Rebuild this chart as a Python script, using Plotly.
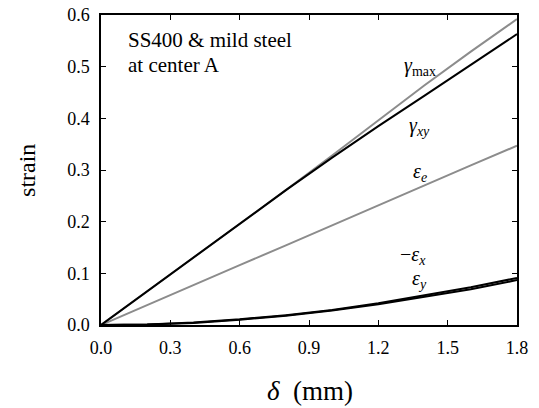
import plotly.graph_objects as go

delta = [0.0, 0.2, 0.4, 0.6, 0.8, 1.0, 1.2, 1.4, 1.6, 1.8]
gamma_max = [0.0, 0.065, 0.130, 0.196, 0.261, 0.328, 0.396, 0.464, 0.529, 0.592]
gamma_xy = [0.0, 0.065, 0.130, 0.196, 0.261, 0.324, 0.385, 0.444, 0.504, 0.563]
eps_e = [0.0, 0.039, 0.077, 0.116, 0.154, 0.193, 0.231, 0.270, 0.309, 0.347]
neg_eps_x = [0.0, 0.001, 0.005, 0.011, 0.019, 0.029, 0.042, 0.057, 0.073, 0.091]
eps_y = [0.0, 0.001, 0.004, 0.010, 0.018, 0.028, 0.040, 0.054, 0.069, 0.087]

xticks = [0.0, 0.3, 0.6, 0.9, 1.2, 1.5, 1.8]
yticks = [0.0, 0.1, 0.2, 0.3, 0.4, 0.5, 0.6]

GRAY = "#8c8c8c"
BLACK = "#000000"
FONT = "Liberation Serif"

fig = go.Figure()
fig.add_trace(go.Scatter(x=delta, y=eps_e, mode="lines", line=dict(color=GRAY, width=2)))
fig.add_trace(go.Scatter(x=delta, y=gamma_max, mode="lines", line=dict(color=GRAY, width=2)))
fig.add_trace(go.Scatter(x=delta, y=gamma_xy, mode="lines", line=dict(color=BLACK, width=2)))
fig.add_trace(go.Scatter(x=delta, y=neg_eps_x, mode="lines", line=dict(color=BLACK, width=2)))
fig.add_trace(go.Scatter(x=delta, y=eps_y, mode="lines", line=dict(color=BLACK, width=2)))

labels = [
    (1.38, 0.500, "<i>γ</i><sub>max</sub>"),
    (1.38, 0.385, "<i>γ</i><sub><i>xy</i></sub>"),
    (1.38, 0.296, "<i>ε</i><sub><i>e</i></sub>"),
    (1.35, 0.135, "−<i>ε</i><sub><i>x</i></sub>"),
    (1.38, 0.089, "<i>ε</i><sub><i>y</i></sub>"),
]
for x, y, t in labels:
    fig.add_annotation(x=x, y=y, text=t, showarrow=False,
                       font=dict(family=FONT, size=20, color="black"))

fig.add_annotation(x=0.11, y=0.552, text="SS400 &amp; mild steel", showarrow=False,
                   xanchor="left", font=dict(family=FONT, size=21, color="black"))
fig.add_annotation(x=0.11, y=0.503, text="at center A", showarrow=False,
                   xanchor="left", font=dict(family=FONT, size=21, color="black"))

# axis titles
fig.add_annotation(xref="paper", yref="paper", x=-0.178, y=0.5, text="strain",
                   textangle=-90, showarrow=False, xanchor="center", yanchor="middle",
                   font=dict(family=FONT, size=24, color="black"))
fig.add_annotation(xref="paper", yref="paper", x=0.502, y=-0.214,
                   text="<i>δ</i>&nbsp; (mm)", showarrow=False, xanchor="center", yanchor="middle",
                   font=dict(family=FONT, size=27, color="black"))

axis_common = dict(
    showline=True, linecolor="black", linewidth=1.5, mirror="ticks",
    ticks="inside", ticklen=5, tickwidth=1, tickcolor="black",
    showgrid=False, zeroline=False, automargin=False,
    tickfont=dict(family=FONT, size=18, color="black"),
)
fig.update_xaxes(range=[0, 1.8], tickvals=xticks, ticktext=[f"{v:.1f}" for v in xticks],
                 ticklabelstandoff=6, **axis_common)
fig.update_yaxes(range=[0, 0.6], tickvals=yticks, ticktext=[f"{v:.1f}" for v in yticks],
                 ticklabelstandoff=6, **axis_common)

fig.update_layout(
    width=539, height=408,
    margin=dict(l=101, r=22, t=15, b=83),
    plot_bgcolor="white", paper_bgcolor="white",
    showlegend=False,
    font=dict(family=FONT),
)
fig.write_html("out.html", config={"displayModeBar": False})

with open("out.html", "r", encoding="utf-8") as f:
    html = f.read()
html = html.replace("<head>", "<head><style>html,body{margin:0;padding:0;overflow:hidden;}</style>", 1)
with open("out.html", "w", encoding="utf-8") as f:
    f.write(html)
